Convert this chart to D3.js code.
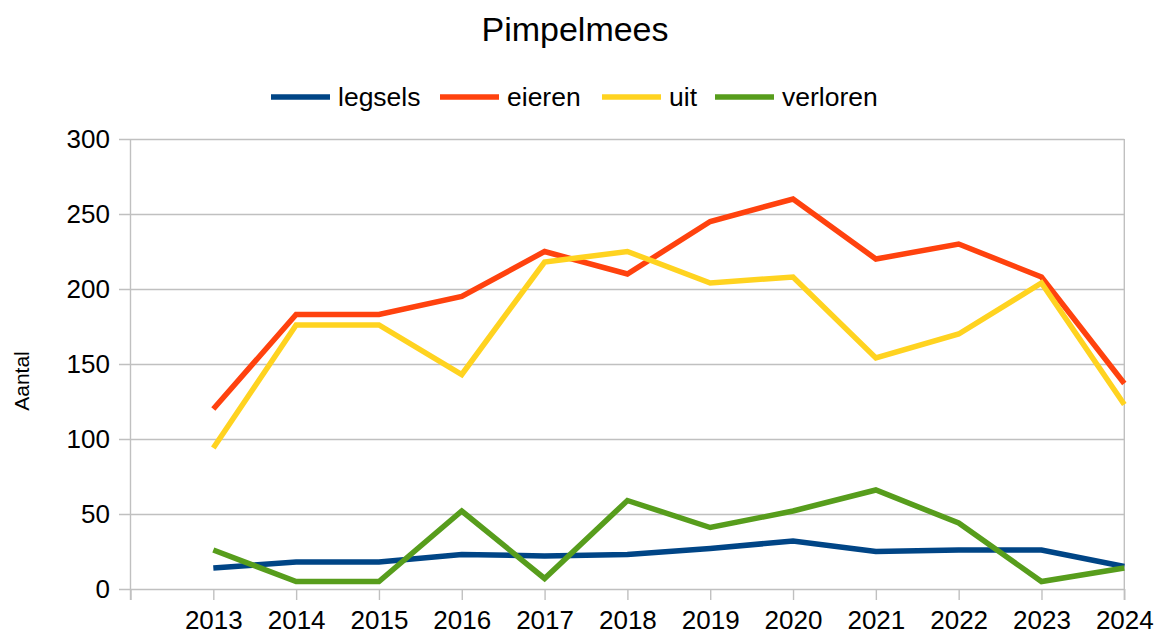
<!DOCTYPE html>
<html>
<head>
<meta charset="utf-8">
<script src="https://cdn.jsdelivr.net/npm/d3@7"></script>
<style>
  body { margin: 0; background: #fff; }
  text { font-family: "Liberation Sans", Arial, sans-serif; fill: #000; }
</style>
</head>
<body>
<div class="graph"></div>
<script>
// data
var years = [2013, 2014, 2015, 2016, 2017, 2018, 2019, 2020, 2021, 2022, 2023, 2024];
var legsels  = [14, 18, 18, 23, 22, 23, 27, 32, 25, 26, 26, 15];
var eieren   = [120, 183, 183, 195, 225, 210, 245, 260, 220, 230, 208, 137];
var uit      = [94, 176, 176, 143, 218, 225, 204, 208, 154, 170, 204, 123];
var verloren = [26, 5, 5, 52, 7, 59, 41, 52, 66, 44, 5, 14];
var yTicks = [0, 50, 100, 150, 200, 250, 300];

var seriesNames = ["legsels", "eieren", "uit", "verloren"];
var seriesValues = [legsels, eieren, uit, verloren];
var colors = ["#004586", "#ff420e", "#ffd320", "#579d1c"];

var W = 1158, H = 635;
// plot box (note: "top" is taken by window.top, so use other names)
var plotL = 130.5, plotR = 1124.3, plotT = 139, plotB = 589;

var svg = d3.select(".graph").append("svg")
  .attr("width", W)
  .attr("height", H);

var x = d3.scaleLinear()
  .domain([years[0] - 1, years[years.length - 1]])
  .range([plotL, plotR]);

var y = d3.scaleLinear()
  .domain([0, 300])
  .range([plotB, plotT]);

// title
svg.append("text")
  .attr("x", 575)
  .attr("y", 41)
  .attr("text-anchor", "middle")
  .style("font-size", "34px")
  .text("Pimpelmees");

// y axis with gridlines
var yAxis = svg.append("g")
  .attr("transform", "translate(119,0)")
  .call(d3.axisLeft(y).tickValues(yTicks).tickSize(-(plotR - 119)).tickPadding(9));
yAxis.select(".domain").remove();
yAxis.selectAll("line").attr("stroke", "#c0c0c0").attr("stroke-width", 1.4);
yAxis.selectAll("text").style("font-size", "26px").attr("fill", "#000");

// x axis
var xAxis = svg.append("g")
  .attr("transform", "translate(0," + plotB + ")")
  .call(d3.axisBottom(x)
    .tickValues([years[0] - 1].concat(years))
    .tickSize(11)
    .tickPadding(11)
    .tickFormat(function(d) { return d < years[0] ? "" : d; }));
xAxis.select(".domain").remove();
xAxis.selectAll("line").attr("stroke", "#c0c0c0").attr("stroke-width", 1.4);
xAxis.selectAll("text").style("font-size", "26px").attr("fill", "#000");

// left and right vertical lines
[plotL, plotR].forEach(function(px) {
  svg.append("line")
    .attr("x1", px).attr("x2", px)
    .attr("y1", plotT).attr("y2", plotB + 11)
    .attr("stroke", "#c0c0c0")
    .attr("stroke-width", 1.4);
});

// y axis title
svg.append("text")
  .attr("transform", "translate(29,381) rotate(-90)")
  .attr("text-anchor", "middle")
  .style("font-size", "21px")
  .text("Aantal");

// lines
var line = d3.line()
  .x(function(d, i) { return x(years[i]); })
  .y(function(d) { return y(d); });

seriesValues.forEach(function(vals, k) {
  svg.append("path")
    .datum(vals)
    .attr("fill", "none")
    .attr("stroke", colors[k])
    .attr("stroke-width", 5.5)
    .attr("stroke-linejoin", "miter")
    .attr("d", line);
});

// legend
var legendX = [271, 440, 602, 715];
seriesNames.forEach(function(name, k) {
  var g = svg.append("g").attr("transform", "translate(" + legendX[k] + ",97)");
  g.append("line")
    .attr("x1", 0).attr("x2", 59)
    .attr("y1", 0).attr("y2", 0)
    .attr("stroke", colors[k])
    .attr("stroke-width", 5.5);
  g.append("text")
    .attr("x", 67)
    .attr("y", 9)
    .style("font-size", "26.5px")
    .text(name);
});
</script>
</body>
</html>
